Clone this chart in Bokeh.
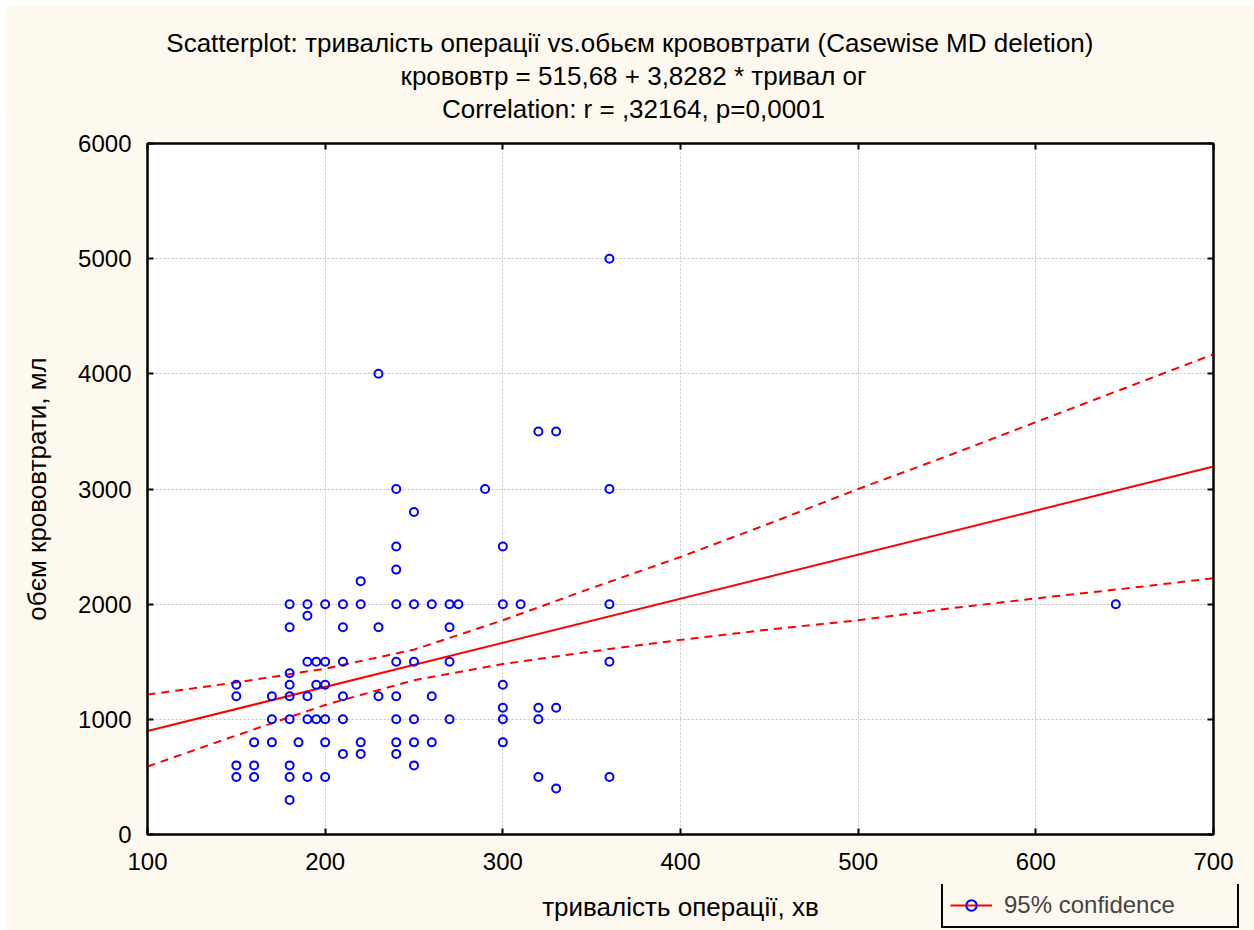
import numpy as np
from bokeh.plotting import figure
from bokeh.layouts import column
from bokeh.models import Range1d, LinearAxis, FixedTicker, Label, Legend, LegendItem
from bokeh.embed import file_html
from bokeh.resources import INLINE

# Operation duration (min) and blood loss volume (ml), one entry per case
duration = [
    150, 150, 150, 150,
    160, 160, 160,
    170, 170, 170,
    180, 180, 180, 180, 180, 180, 180, 180, 180,
    185,
    190, 190, 190, 190, 190, 190,
    195, 195, 195,
    200, 200, 200, 200, 200, 200,
    210, 210, 210, 210, 210, 210,
    220, 220, 220, 220,
    230, 230, 230,
    240, 240, 240, 240, 240, 240, 240, 240, 240,
    250, 250, 250, 250, 250, 250,
    260, 260, 260,
    270, 270, 270, 270,
    275,
    290,
    300, 300, 300, 300, 300, 300,
    310,
    320, 320, 320, 320,
    330, 330, 330,
    360, 360, 360, 360, 360,
    645,
]
blood_loss = [
    1300, 1200, 600, 500,
    800, 600, 500,
    1200, 1000, 800,
    2000, 1800, 1400, 1300, 1200, 1000, 600, 500, 300,
    800,
    2000, 1900, 1500, 1200, 1000, 500,
    1500, 1300, 1000,
    2000, 1500, 1300, 1000, 800, 500,
    2000, 1800, 1500, 1200, 1000, 700,
    2200, 2000, 800, 700,
    4000, 1800, 1200,
    3000, 2500, 2300, 2000, 1500, 1200, 1000, 800, 700,
    2800, 2000, 1500, 1000, 800, 600,
    2000, 1200, 800,
    2000, 1800, 1500, 1000,
    2000,
    3000,
    2500, 2000, 1300, 1100, 1000, 800,
    2000,
    3500, 1100, 1000, 500,
    3500, 1100, 400,
    5000, 3000, 2000, 1500, 500,
    2000,
]

# Fitted regression: крововтр = 515,68 + 3,8282 * тривал ог
intercept = 515.68
slope = 3.8282

# 95% confidence limits of the fitted line
band_x = [100, 150, 200, 250, 300, 350, 400, 450, 500, 550, 600, 650, 700]
band_upper = [1215, 1320, 1440, 1605, 1860, 2140, 2410, 2700, 3000, 3285, 3580, 3875, 4170]
band_lower = [590, 860, 1125, 1340, 1480, 1590, 1690, 1780, 1860, 1960, 2050, 2135, 2225]

x_ticks = [100, 200, 300, 400, 500, 600, 700]
y_ticks = [0, 1000, 2000, 3000, 4000, 5000, 6000]

title_lines = [
    "Scatterplot: тривалість операції  vs.обьєм крововтрати (Casewise MD deletion)",
    "крововтр = 515,68 + 3,8282 * тривал ог",
    "Correlation: r = ,32164, p=0,0001",
]
x_label = "тривалість операції, хв"
y_label = "обєм крововтрати, мл"
legend_label = "95% confidence"

CREAM = "#FEF9EE"
FONT = "Liberation Sans"

fit_x = np.array([x_ticks[0], x_ticks[-1]], dtype=float)
fit_y = intercept + slope * fit_x


def unalign(f):
    if "frame_align" in f.properties():
        f.frame_align = False


def bare_figure(w, h):
    f = figure(width=w, height=h, x_range=Range1d(0, 1), y_range=Range1d(0, 1),
               output_backend="svg", toolbar_location=None,
               x_axis_location=None, y_axis_location=None,
               min_border=0, outline_line_color=None,
               background_fill_color=CREAM, border_fill_color=CREAM)
    f.grid.visible = False
    unalign(f)
    return f


# ---- heading strip ----
head = bare_figure(1248, 120)
head.margin = (5, 0, 0, 6)
for txt, yy in zip(title_lines, [83, 50, 17]):
    head.add_layout(Label(
        x=627, y=yy, x_units="screen", y_units="screen",
        text=txt, text_align="center", text_baseline="middle",
        text_font=FONT, text_font_size="26px", text_color="black",
    ))

# ---- main scatterplot ----
p = figure(
    width=1248, height=805,
    x_range=Range1d(x_ticks[0], x_ticks[-1]),
    y_range=Range1d(y_ticks[0], y_ticks[-1]),
    output_backend="svg", toolbar_location=None,
    min_border_left=141, min_border_right=41,
    min_border_top=18, min_border_bottom=96,
    background_fill_color="white", border_fill_color=CREAM,
    outline_line_color="black", outline_line_width=2,
)
p.margin = (0, 0, 0, 6)
unalign(p)


def style_axis(ax, ticks, show_labels):
    ax.ticker = FixedTicker(ticks=ticks)
    ax.axis_line_color = "black"
    ax.axis_line_width = 2
    ax.major_tick_line_color = "black"
    ax.major_tick_line_width = 2
    ax.major_tick_in = 6
    ax.major_tick_out = 0
    ax.minor_tick_line_color = None
    ax.major_label_text_font = FONT
    ax.major_label_text_color = "black"
    if show_labels:
        ax.major_label_text_font_size = "24px"
    else:
        ax.major_label_overrides = {t: "" for t in ticks}
        ax.major_label_text_font_size = "1px"
        ax.major_label_standoff = 0


style_axis(p.xaxis[0], x_ticks, True)
style_axis(p.yaxis[0], y_ticks, True)
p.xaxis.major_label_standoff = 18
p.yaxis.major_label_standoff = 16

p.xaxis.axis_label = x_label
p.yaxis.axis_label = y_label
for ax in (p.xaxis[0], p.yaxis[0]):
    ax.axis_label_text_font = FONT
    ax.axis_label_text_font_size = "26px"
    ax.axis_label_text_font_style = "normal"
    ax.axis_label_text_color = "black"
p.xaxis.axis_label_standoff = 19
p.yaxis.axis_label_standoff = 23

right_ax = LinearAxis()
style_axis(right_ax, y_ticks, False)
p.add_layout(right_ax, "right")
top_ax = LinearAxis()
style_axis(top_ax, x_ticks, False)
p.add_layout(top_ax, "above")

for g in (p.xgrid[0], p.ygrid[0]):
    g.grid_line_color = "#c4c4c4"
    g.grid_line_dash = "2 2"
    g.grid_line_width = 1
p.xgrid.ticker = FixedTicker(ticks=x_ticks)
p.ygrid.ticker = FixedTicker(ticks=y_ticks)

p.line(band_x, band_lower, line_color="red", line_width=2, line_dash="8 6")
p.line(band_x, band_upper, line_color="red", line_width=2, line_dash="8 6")
p.line(fit_x, fit_y, line_color="red", line_width=2)
p.scatter(duration, blood_loss, marker="circle", size=8,
          line_color="#0000ff", line_width=2, fill_color=None)

# ---- legend box, laid over the lower right corner ----
key = bare_figure(300, 46)
key.margin = (-46, 0, 0, 939)
key_line = key.line([5, 6], [5, 6], line_color="red", line_width=2)
key_pts = key.scatter([5], [5], marker="circle", size=8,
                      line_color="#0000ff", line_width=2, fill_color=None)
key.add_layout(Legend(
    items=[LegendItem(label=legend_label, renderers=[key_line, key_pts])],
    location=(2, 2),
    border_line_color="black", border_line_width=2, border_line_alpha=1.0,
    background_fill_color=CREAM, background_fill_alpha=1.0,
    label_text_font=FONT, label_text_font_size="24px",
    glyph_width=42, glyph_height=26, label_standoff=12,
    label_width=226, label_height=28,
    padding=7, margin=0, spacing=0,
))

page = column(head, p, key, spacing=0)
open("out.html", "w").write(file_html(page, INLINE))
